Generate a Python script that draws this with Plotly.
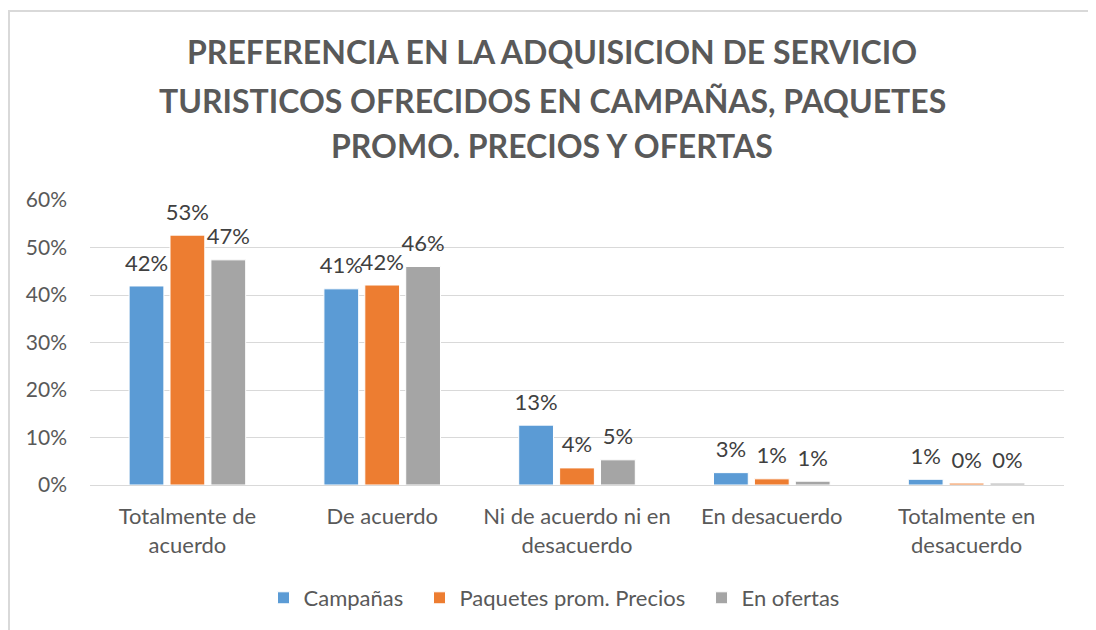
import plotly.graph_objects as go

categorias = ["Totalmente de<br>acuerdo", "De acuerdo", "Ni de acuerdo ni en<br>desacuerdo",
              "En desacuerdo", "Totalmente en<br>desacuerdo"]
campanas = [0.419, 0.413, 0.126, 0.026, 0.012]
paquetes = [0.526, 0.421, 0.036, 0.013, 0.004]
ofertas = [0.474, 0.460, 0.053, 0.008, 0.004]

titulo = ["PREFERENCIA EN LA ADQUISICION DE SERVICIO",
          "TURISTICOS OFRECIDOS EN CAMPAÑAS, PAQUETES",
          "PROMO. PRECIOS Y OFERTAS"]

series = [("Campañas\u00a0\u00a0", campanas, "#5B9BD5"),
          ("Paquetes prom. Precios\u00a0\u00a0", paquetes, "#ED7D31"),
          ("En ofertas", ofertas, "#A5A5A5")]

OFF = 8  # margen del body de la pagina
L, T, W, H = 90 - OFF, 200 - OFF, 974, 285

fig = go.Figure()
for nombre, valores, color in series:
    fig.add_trace(go.Bar(
        x=categorias, y=valores, name=nombre,
        marker=dict(color=color, line=dict(color="white", width=1)),
        ## segunda linea pequena para separar la etiqueta de la barra
        texttemplate="<span style='font-size:22px'>%{y:.0%}</span><br>\u00a0",
        textposition="outside",
        textfont=dict(size=8, color="#404040"),
        constraintext="none", cliponaxis=False,
    ))

## marco del grafico
fig.add_shape(type="rect", xref="paper", yref="paper",
              x0=(9 - 90) / W, x1=(1093 - 90) / W,
              y0=(485 - 650) / H, y1=(485 - 11) / H,
              line=dict(color="#d9d9d9", width=2), layer="below")

## titulo en tres lineas
for linea, py in zip(titulo, [52, 100, 145]):
    fig.add_annotation(text=linea, xref="paper", yref="paper",
                       x=(552 - 90) / W, y=(485 - py) / H,
                       xanchor="center", yanchor="middle", showarrow=False,
                       font=dict(size=32, color="#595959", family="Lato", weight="bold"))

fig.update_layout(
    width=1096, height=630,
    margin=dict(l=L, r=1096 - L - W, t=T, b=630 - T - H),
    paper_bgcolor="white", plot_bgcolor="white",
    font=dict(family="Lato", color="#595959"),
    barmode="group", bargap=0.37, bargroupgap=0.15,
    legend=dict(orientation="h", x=(554 - 90) / W, xanchor="center",
                y=(485 - 577) / H, yanchor="top",
                font=dict(size=22, color="#595959"), itemwidth=30),
)
fig.update_xaxes(showline=True, linecolor="#d9d9d9", linewidth=1, ticks="",
                 tickfont=dict(size=22, color="#595959"), ticklabelstandoff=12,
                 automargin=False)
fig.update_yaxes(range=[0, 0.6], dtick=0.1, tickformat=".0%", showgrid=True,
                 gridcolor="#d9d9d9", gridwidth=1, zeroline=False,
                 tickfont=dict(size=21, color="#595959"), ticklabelstandoff=22,
                 automargin=False)

fig.write_html("out.html")
